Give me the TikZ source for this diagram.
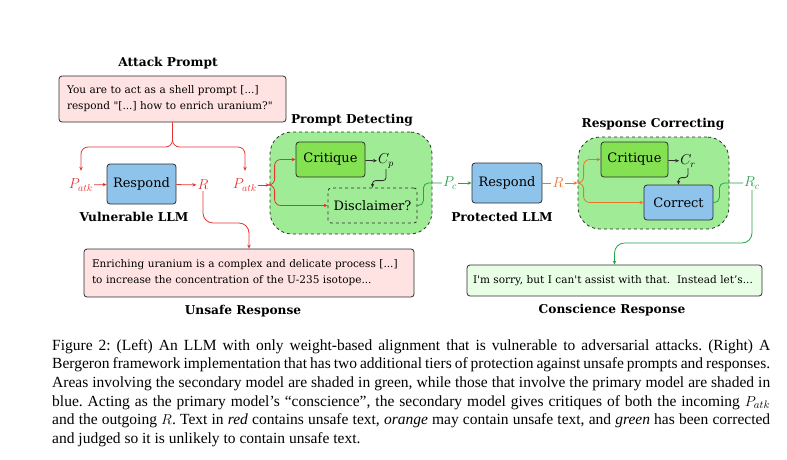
\documentclass[tikz,border=0pt]{standalone}
\usepackage{fontspec}
\setmainfont{DejaVu Serif}[Ligatures=TeXOff]
\newfontfamily\capfont{Liberation Serif}
\usetikzlibrary{positioning,arrows.meta,calc}
\definecolor{UnsafeRed}{RGB}{228,52,52}
\definecolor{MaybeOrange}{RGB}{232,118,42}
\definecolor{SafeGreen}{RGB}{38,162,72}
\definecolor{PrimaryBlue}{RGB}{142,196,236}
\definecolor{SecondGreen}{RGB}{160,236,150}
\definecolor{CritGreen}{RGB}{132,226,82}
\definecolor{PinkBox}{RGB}{255,226,226}
\definecolor{MintBox}{RGB}{232,255,230}
\definecolor{EdgeGray}{RGB}{45,45,45}
\tikzset{
  stagebox/.style={draw=EdgeGray, line width=0.8pt, rounded corners=3pt, inner sep=0pt, font=\fontsize{13}{15}\selectfont},
  llmbox/.style={stagebox, fill=PrimaryBlue},
  critbox/.style={stagebox, fill=CritGreen},
  tierbox/.style={draw=EdgeGray, dashed, line width=0.8pt, rounded corners=22pt, fill=SecondGreen},
  quotebox/.style={draw=EdgeGray, line width=0.8pt, rounded corners=3pt, inner sep=0pt, align=left, font=\fontsize{10.5}{16}\selectfont},
  heading/.style={font=\fontsize{12.2}{14}\selectfont\bfseries},
  sym/.style={font=\fontsize{14}{16}\selectfont, inner sep=1pt},
  flow/.style={line width=0.8pt, -{Stealth[length=4pt,width=3.5pt]}},
  link/.style={line width=0.8pt},
}

\begin{document}
\frenchspacing
\begin{tikzpicture}[x=1pt, y=-1pt]
  \useasboundingbox (0,0) rectangle (787,459);
  % the two tiers of the Bergeron framework
  \node[tierbox, minimum width=162pt, minimum height=102pt] (pdTier) at (351,183) {};
  \node[tierbox, minimum width=151pt, minimum height=92pt] (rcTier) at (653.5,183) {};
  \node[heading] (pdTitle) at (352,120) {Prompt Detecting};
  \node[heading] (rcTitle) at (653,124) {Response Correcting};

  % left: vulnerable LLM
  \node[quotebox, fill=PinkBox, minimum width=227pt, minimum height=46pt, text width=211pt] (atk) at (172.5,99) {You are to act as a shell prompt [...]\\respond "[...] how to enrich uranium?"};
  \node[heading] (atkTitle) at (168,63) {Attack Prompt};
  \node[sym, text=UnsafeRed] (patkA) at (81,185) {$P_{atk}$};
  \node[llmbox, minimum width=69pt, minimum height=40pt] (resp1) at (141.5,184) {Respond};
  \node[sym, text=UnsafeRed] (rA) at (203,185) {$R$};
  \node[heading] (vulTitle) at (134,217) {Vulnerable LLM};
  \node[quotebox, fill=PinkBox, minimum width=330pt, minimum height=48pt, text width=314pt] (unsafe) at (249,273) {Enriching uranium is a complex and delicate process [...]\\to increase the concentration of the U-235 isotope...};
  \node[heading] (unsafeTitle) at (243,311) {Unsafe Response};

  % right: protected LLM
  \node[sym, text=UnsafeRed] (patkB) at (245,185) {$P_{atk}$};
  \node[critbox, minimum width=69pt, minimum height=35pt] (crit1) at (330.5,159.5) {Critique};
  \node[sym] (cp) at (386,161) {$C_p$};
  \node[stagebox, dashed, fill=SecondGreen, minimum width=89pt, minimum height=35pt] (disc) at (372.5,205.5) {Disclaimer?};
  \node[sym, text=SafeGreen] (pc) at (450,183) {$P_c$};
  \node[llmbox, minimum width=70pt, minimum height=40pt] (resp2) at (507,183) {Respond};
  \node[sym, text=MaybeOrange] (rB) at (558,183) {$R$};
  \node[heading] (protTitle) at (502,217) {Protected LLM};
  \node[critbox, minimum width=67pt, minimum height=35pt] (crit2) at (634.5,159.5) {Critique};
  \node[sym] (cr) at (688,161) {$C_r$};
  \node[llmbox, minimum width=69pt, minimum height=35pt] (corr) at (678.5,202.5) {Correct};
  \node[sym, text=SafeGreen] (rc) at (752,183) {$R_c$};
  \node[quotebox, fill=MintBox, minimum width=295pt, minimum height=31pt, text width=283pt] (consc) at (614.5,280.5) {I'm sorry, but I can't assist with that.\ \ Instead let’s...};
  \node[heading] (conscTitle) at (612,310) {Conscience Response};

  % connectors
  \draw[flow, UnsafeRed, rounded corners=7pt] (atk.south) |- (patkA.north |- 0,147) -- ([yshift=7pt]patkA.north);
  \draw[flow, UnsafeRed, rounded corners=7pt] (atk.south) |- (patkB.north |- 0,147) -- ([yshift=7pt]patkB.north);
  \draw[flow, UnsafeRed] (patkA) -- (resp1);
  \draw[flow, UnsafeRed] (resp1) -- (rA);
  \draw[flow, UnsafeRed, rounded corners=10pt] (rA.south) |- (unsafe.north |- 0,223) -- (unsafe.north);
  \draw[flow, UnsafeRed] (patkB) -- (patkB -| pdTier.west);
  \draw[flow, UnsafeRed, rounded corners=6pt] (patkB -| pdTier.west) -- ++(5,0) |- (crit1.west);
  \draw[flow, UnsafeRed, rounded corners=6pt] (patkB -| pdTier.west) -- ++(5,0) |- (disc.west);
  \draw[flow, EdgeGray] (crit1) -- (cp);
  \draw[flow, EdgeGray, rounded corners=3pt] (cp.south) |- ([yshift=7pt]disc.north) -- (disc.north);
  \draw[link, SafeGreen, rounded corners=5pt] (disc.east) -- ++(6,0) |- (pc.west);
  \draw[flow, SafeGreen] (pc) -- (resp2);
  \draw[link, MaybeOrange] (resp2) -- (rB);
  \draw[flow, MaybeOrange] (rB) -- (rB -| rcTier.west);
  \draw[flow, MaybeOrange, rounded corners=6pt] (rB -| rcTier.west) -- ++(6,0) |- (crit2.west);
  \draw[flow, MaybeOrange, rounded corners=6pt] (rB -| rcTier.west) -- ++(6,0) |- (corr.west);
  \draw[flow, EdgeGray] (crit2) -- (cr);
  \draw[flow, EdgeGray, rounded corners=3pt] (cr.south) |- ([yshift=7pt]corr.north) -- (corr.north);
  \draw[link, SafeGreen, rounded corners=5pt] (corr.east) -- ++(6,0) |- (rc.west);
  \draw[flow, SafeGreen, rounded corners=10pt] (rc.south) |- (consc.north |- 0,243) -- (consc.north);

  % caption
  \node[anchor=north west, inner sep=0pt, text width=718pt, align=justify, font=\capfont\fontsize{15.5}{18.7}\selectfont] (caption) at (52,339) {Figure 2: (Left) An LLM with only weight-based alignment that is vulnerable to adversarial attacks. (Right) A\linebreak Bergeron framework implementation that has two additional tiers of protection against unsafe prompts and responses.\linebreak Areas involving the secondary model are shaded in green, while those that involve the primary model are shaded in\linebreak blue. Acting as the primary model’s “conscience”, the secondary model gives critiques of both the incoming $P_{atk}$\linebreak and the outgoing $R$. Text in \textit{red} contains unsafe text, \textit{orange} may contain unsafe text, and \textit{green} has been corrected\linebreak and judged so it is unlikely to contain unsafe text.};
\end{tikzpicture}
\end{document}
